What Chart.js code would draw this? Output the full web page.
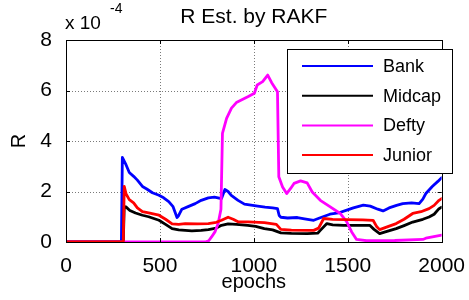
<!DOCTYPE html>
<html>
<head>
<meta charset="utf-8">
<title>R Est. by RAKF</title>
<script src="https://cdn.jsdelivr.net/npm/chart.js@4.4.1/dist/chart.umd.min.js"></script>
<style>
  html, body { margin: 0; padding: 0; background: #fff; }
  canvas { display: block; }
</style>
</head>
<body>
<canvas id="chart" width="469" height="300"></canvas>
<script>
// R values, in units of 1e-4
const bankEpochs = [0, 295, 300, 310, 320, 337, 360, 380, 407, 430, 460, 495, 520, 547, 570, 591, 600, 617, 650, 688, 720, 758, 790, 828, 846, 863, 880, 916, 950, 1021, 1060, 1100, 1126, 1135, 1144, 1180, 1232, 1270, 1319, 1350, 1405, 1450, 1495, 1530, 1583, 1620, 1660, 1688, 1720, 1760, 1793, 1840, 1880, 1900, 1916, 1950, 1980, 2000];
const bankValues = [0, 0, 3.35, 3.2, 3.05, 2.75, 2.6, 2.45, 2.2, 2.1, 1.95, 1.85, 1.75, 1.6, 1.4, 0.97, 1.05, 1.3, 1.4, 1.52, 1.65, 1.75, 1.78, 1.72, 2.08, 2.0, 1.85, 1.65, 1.5, 1.42, 1.38, 1.35, 1.32, 1.05, 0.98, 0.95, 0.97, 0.92, 0.86, 0.95, 1.1, 1.15, 1.26, 1.35, 1.46, 1.42, 1.3, 1.23, 1.35, 1.45, 1.52, 1.55, 1.52, 1.7, 1.92, 2.2, 2.4, 2.55];

const midcapEpochs = [0, 305, 310, 319, 340, 370, 407, 440, 495, 530, 565, 600, 670, 720, 758, 800, 828, 863, 907, 968, 1010, 1056, 1100, 1144, 1200, 1284, 1340, 1354, 1389, 1420, 1477, 1530, 1617, 1640, 1670, 1700, 1758, 1800, 1846, 1900, 1933, 1960, 1986, 2000];
const midcapValues = [0, 0, 1.4, 1.39, 1.25, 1.15, 1.06, 1.0, 0.86, 0.7, 0.53, 0.48, 0.44, 0.46, 0.49, 0.55, 0.66, 0.72, 0.7, 0.66, 0.62, 0.53, 0.48, 0.36, 0.34, 0.33, 0.35, 0.46, 0.73, 0.68, 0.66, 0.66, 0.66, 0.5, 0.33, 0.4, 0.53, 0.65, 0.79, 0.9, 0.99, 1.1, 1.32, 1.38];

const deftyEpochs = [0, 740, 760, 775, 793, 810, 825, 833, 855, 881, 907, 968, 1003, 1018, 1047, 1074, 1095, 1126, 1133, 1153, 1175, 1196, 1214, 1249, 1284, 1311, 1354, 1407, 1460, 1495, 1521, 1547, 1600, 1750, 1900, 1916, 2000];
const deftyValues = [0, 0, 0.05, 0.2, 0.4, 0.73, 1.3, 4.3, 4.9, 5.3, 5.52, 5.75, 5.89, 6.22, 6.35, 6.61, 6.31, 5.95, 2.58, 2.18, 1.92, 2.12, 2.32, 2.42, 2.34, 1.98, 1.65, 1.39, 1.13, 0.8, 0.4, 0.1, 0.05, 0.06, 0.1, 0.15, 0.27];

const juniorEpochs = [0, 305, 310, 320, 337, 360, 380, 407, 440, 495, 530, 565, 600, 635, 700, 758, 800, 828, 863, 890, 916, 970, 1056, 1120, 1144, 1200, 1319, 1345, 1372, 1420, 1495, 1580, 1635, 1655, 1670, 1710, 1758, 1800, 1846, 1890, 1933, 1960, 1986, 2000];
const juniorValues = [0, 0, 2.2, 1.9, 1.68, 1.55, 1.35, 1.2, 1.15, 1.06, 0.9, 0.72, 0.7, 0.73, 0.72, 0.73, 0.78, 0.86, 0.98, 0.9, 0.8, 0.8, 0.77, 0.7, 0.5, 0.47, 0.46, 0.55, 0.93, 0.9, 0.89, 0.88, 0.86, 0.6, 0.49, 0.6, 0.73, 0.9, 1.13, 1.2, 1.32, 1.45, 1.65, 1.72];

const xTicks = [0, 500, 1000, 1500, 2000];
const yTicks = [0, 2, 4, 6, 8];

const FONT = "'Liberation Sans', Arial, sans-serif";

function pontos(epochs, values) {
    return epochs.map((e, i) => ({ x: e, y: values[i] }));
}

// grade pontilhada atras das linhas
const gridPlugin = {
    id: 'grade',
    beforeDatasetsDraw(chart) {
        const ctx = chart.ctx;
        const a = chart.chartArea;
        const xs = chart.scales.x;
        const ys = chart.scales.y;
        ctx.save();
        ctx.strokeStyle = '#7a7a7a';
        ctx.lineWidth = 1;
        ctx.setLineDash([1, 2]);
        ctx.beginPath();
        xTicks.slice(1, -1).forEach(v => {
            const px = Math.round(xs.getPixelForValue(v)) + 0.5;
            ctx.moveTo(px, a.top); ctx.lineTo(px, a.bottom);
        });
        yTicks.slice(1, -1).forEach(v => {
            const py = Math.round(ys.getPixelForValue(v)) + 0.5;
            ctx.moveTo(a.left, py); ctx.lineTo(a.right, py);
        });
        ctx.stroke();
        ctx.restore();
    }
};

// titulo e multiplicador do eixo
const titlePlugin = {
    id: 'titulo',
    afterDraw(chart) {
        const ctx = chart.ctx;
        const area = chart.chartArea;
        ctx.save();
        ctx.fillStyle = '#000';
        ctx.textBaseline = 'alphabetic';
        ctx.textAlign = 'center';
        ctx.font = '21px ' + FONT;
        ctx.fillText('R Est. by RAKF', (area.left + area.right) / 2, 23);
        ctx.textAlign = 'left';
        ctx.font = '19px ' + FONT;
        ctx.fillText('x 10', 65, 29);
        ctx.font = '14px ' + FONT;
        ctx.fillText('-4', 110, 13);
        ctx.restore();
    }
};

// caixa do grafico com ticks para dentro
const boxPlugin = {
    id: 'caixa',
    afterDatasetsDraw(chart) {
        const ctx = chart.ctx;
        const a = chart.chartArea;
        const xs = chart.scales.x;
        const ys = chart.scales.y;
        ctx.save();
        ctx.strokeStyle = '#000';
        ctx.lineWidth = 1;
        ctx.beginPath();
        xTicks.forEach(v => {
            const px = Math.round(xs.getPixelForValue(v)) + 0.5;
            ctx.moveTo(px, a.bottom); ctx.lineTo(px, a.bottom - 4);
            ctx.moveTo(px, a.top); ctx.lineTo(px, a.top + 4);
        });
        yTicks.forEach(v => {
            const py = Math.round(ys.getPixelForValue(v)) + 0.5;
            ctx.moveTo(a.left, py); ctx.lineTo(a.left + 4, py);
            ctx.moveTo(a.right, py); ctx.lineTo(a.right - 4, py);
        });
        ctx.stroke();
        ctx.strokeRect(Math.round(a.left) + 0.5, Math.round(a.top) + 0.5,
            Math.round(a.right - a.left), Math.round(a.bottom - a.top));
        ctx.restore();
    }
};

// legenda no estilo do matlab
const legendPlugin = {
    id: 'legenda',
    afterDraw(chart) {
        const ctx = chart.ctx;
        const box = { x: 287, y: 49, w: 165, h: 124 };
        ctx.save();
        ctx.fillStyle = '#fff';
        ctx.fillRect(box.x, box.y, box.w, box.h);
        ctx.strokeStyle = '#000';
        ctx.lineWidth = 1;
        ctx.strokeRect(box.x + 0.5, box.y + 0.5, box.w, box.h);
        ctx.font = '18px ' + FONT;
        ctx.textBaseline = 'middle';
        ctx.textAlign = 'left';
        chart.data.datasets.forEach((ds, i) => {
            const y = 66 + i * 29.7;
            ctx.strokeStyle = ds.borderColor;
            ctx.lineWidth = 2;
            ctx.beginPath();
            ctx.moveTo(302, y);
            ctx.lineTo(373, y);
            ctx.stroke();
            ctx.fillStyle = '#000';
            ctx.fillText(ds.label, 383, y + 1);
        });
        ctx.restore();
    }
};

const ctx = document.getElementById('chart').getContext('2d');

new Chart(ctx, {
    type: 'line',
    data: {
        datasets: [
            { label: 'Bank', data: pontos(bankEpochs, bankValues), borderColor: '#0000FF', order: 3 },
            { label: 'Midcap', data: pontos(midcapEpochs, midcapValues), borderColor: '#000000', order: 2 },
            { label: 'Defty', data: pontos(deftyEpochs, deftyValues), borderColor: '#FF00FF', order: 1 },
            { label: 'Junior', data: pontos(juniorEpochs, juniorValues), borderColor: '#FF0000', order: 0 }
        ]
    },
    options: {
        responsive: false,
        animation: false,
        devicePixelRatio: 1,
        elements: {
            line: { borderWidth: 2.8, tension: 0, fill: false, borderJoinStyle: 'round', borderCapStyle: 'round' },
            point: { radius: 0, hoverRadius: 0 }
        },
        layout: { padding: { left: 0, top: 40, right: 23, bottom: 0 } },
        plugins: {
            legend: { display: false },
            tooltip: { enabled: false },
            title: { display: false }
        },
        scales: {
            x: {
                type: 'linear',
                min: 0,
                max: 2000,
                afterBuildTicks: s => { s.ticks = xTicks.map(v => ({ value: v })); },
                afterFit: s => { s.height = 58; },
                grid: { display: false },
                border: { display: false },
                ticks: { color: '#000', padding: 4, font: { family: FONT, size: 21 }, maxRotation: 0, callback: v => String(v) },
                title: { display: true, text: 'epochs', color: '#000', font: { family: FONT, size: 20 }, padding: { top: 0, bottom: 6 } }
            },
            y: {
                min: 0,
                max: 8,
                afterBuildTicks: s => { s.ticks = yTicks.map(v => ({ value: v })); },
                afterFit: s => { s.width = 66; },
                grid: { display: false },
                border: { display: false },
                ticks: { color: '#000', padding: 6, font: { family: FONT, size: 21 }, callback: v => String(v) },
                title: { display: true, text: 'R', color: '#000', font: { family: FONT, size: 20 }, padding: { top: 7, bottom: 0 } }
            }
        }
    },
    plugins: [gridPlugin, boxPlugin, titlePlugin, legendPlugin]
});
</script>
</body>
</html>
